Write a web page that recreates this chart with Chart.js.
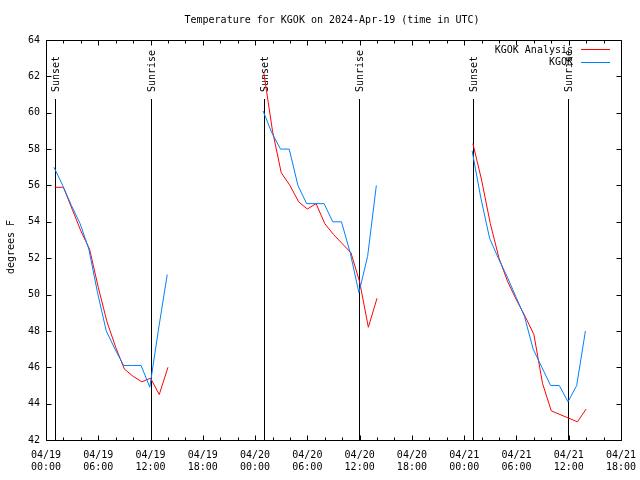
<!DOCTYPE html>
<html><head><meta charset="utf-8">
<script src="https://cdn.jsdelivr.net/npm/chart.js@4"></script>
<style>html,body{margin:0;padding:0;background:#fff}canvas{display:block}</style>
</head><body>
<canvas id="c" width="640" height="480"></canvas>
<script>
const chartTitle = 'Temperature for KGOK on 2024-Apr-19 (time in UTC)';
const yAxisTitle = 'degrees F';
const seriesNames = ['KGOK Analysis', 'KGOK'];
const yTicks = [42, 44, 46, 48, 50, 52, 54, 56, 58, 60, 62, 64];
const xTickLabels = ['04/19 00:00','04/19 06:00','04/19 12:00','04/19 18:00',
  '04/20 00:00','04/20 06:00','04/20 12:00','04/20 18:00',
  '04/21 00:00','04/21 06:00','04/21 12:00','04/21 18:00'];

const obsTimes = [
  '04/19 00:55','04/19 01:55','04/19 02:55','04/19 03:55','04/19 04:55','04/19 05:55','04/19 06:55',
  '04/19 07:55','04/19 08:55','04/19 09:55','04/19 10:55','04/19 11:55','04/19 12:55','04/19 13:55',
  '04/20 00:55','04/20 01:55','04/20 02:55','04/20 03:55','04/20 04:55','04/20 05:55','04/20 06:55',
  '04/20 07:55','04/20 08:55','04/20 09:55','04/20 10:55','04/20 11:55','04/20 12:55','04/20 13:55',
  '04/21 00:55','04/21 01:55','04/21 02:55','04/21 03:55','04/21 04:55','04/21 05:55','04/21 06:55',
  '04/21 07:55','04/21 08:55','04/21 09:55','04/21 10:55','04/21 11:55','04/21 12:55','04/21 13:55'];
const obsTemps = [
  57.0, 56.0, 54.9, 53.9, 52.5, 50.1, 48.0, 47.0, 46.1, 46.1, 46.1, 44.9, 48.1, 51.1,
  60.1, 58.9, 58.0, 58.0, 56.0, 55.0, 55.0, 55.0, 54.0, 54.0, 52.3, 50.1, 52.1, 56.0,
  57.9, 55.3, 53.1, 52.0, 51.0, 49.9, 48.8, 47.0, 46.0, 45.0, 45.0, 44.1, 45.0, 48.0];

const anaTimes = [
  '04/19 01:00','04/19 02:00','04/19 03:00','04/19 04:00','04/19 05:00','04/19 06:00','04/19 07:00',
  '04/19 08:00','04/19 09:00','04/19 10:00','04/19 11:00','04/19 12:00','04/19 13:00','04/19 14:00',
  '04/20 01:00','04/20 02:00','04/20 03:00','04/20 04:00','04/20 05:00','04/20 06:00','04/20 07:00',
  '04/20 08:00','04/20 09:00','04/20 10:00','04/20 11:00','04/20 12:00','04/20 13:00','04/20 14:00',
  '04/21 01:00','04/21 02:00','04/21 03:00','04/21 04:00','04/21 05:00','04/21 06:00','04/21 07:00',
  '04/21 08:00','04/21 09:00','04/21 10:00','04/21 11:00','04/21 12:00','04/21 13:00','04/21 14:00'];
const anaTemps = [
  55.9, 55.9, 54.7, 53.5, 52.5, 50.4, 48.5, 47.1, 45.9, 45.5, 45.2, 45.4, 44.5, 46.0,
  62.2, 59.0, 56.7, 56.0, 55.1, 54.7, 55.0, 53.9, 53.3, 52.8, 52.3, 50.7, 48.2, 49.8,
  58.3, 56.3, 53.9, 52.0, 50.7, 49.7, 48.8, 47.8, 45.1, 43.6, 43.4, 43.2, 43.0, 43.7];

const sunLabels = ['Sunset','Sunrise','Sunset','Sunrise','Sunset','Sunrise'];
const sunTimes = ['04/19 01:04','04/19 12:01','04/20 01:04','04/20 11:58','04/21 01:03','04/21 11:57'];

const FONT = 'DejaVu Sans Mono';
const RED = '#ff0000';
const BLUE = '#0080ff';

function hoursOf(s) {
  const [d, hm] = s.split(' ');
  const day = +d.split('/')[1];
  const [h, m] = hm.split(':').map(Number);
  return (day - 19) * 24 + h + m / 60;
}
function buildSeries(times, temps) {
  const pts = [];
  for (let i = 0; i < times.length; i++) {
    const x = hoursOf(times[i]);
    if (pts.length && x - pts[pts.length - 1].x > 3) pts.push({x: x - 1, y: null});
    pts.push({x: x, y: temps[i]});
  }
  return pts;
}

const gnuplotPlugin = {
  id: 'gnuplotDecor',
  beforeDatasetsDraw(chart) {
    const {ctx, chartArea: a, scales: {x}} = chart;
    ctx.save();
    ctx.strokeStyle = '#000';
    ctx.lineWidth = 1;
    ctx.fillStyle = '#000';
    ctx.font = '10px "' + FONT + '"';
    sunTimes.forEach((t, i) => {
      const px = Math.round(x.getPixelForValue(hoursOf(t))) + 0.5;
      ctx.beginPath();
      ctx.moveTo(px, 99);
      ctx.lineTo(px, a.bottom);
      ctx.stroke();
      ctx.save();
      ctx.translate(px + 1, 92);
      ctx.rotate(-Math.PI / 2);
      ctx.textAlign = 'left';
      ctx.textBaseline = 'middle';
      ctx.fillText(sunLabels[i], 0, 0);
      ctx.restore();
    });
    ctx.restore();
  },
  afterDraw(chart) {
    const {ctx, chartArea: a, scales: {x, y}} = chart;
    ctx.save();
    ctx.strokeStyle = '#000';
    ctx.lineWidth = 1;
    const L = Math.round(a.left) + 0.5, R = Math.round(a.right) + 0.5;
    const T = Math.round(a.top) + 0.5, B = Math.round(a.bottom) + 0.5;
    ctx.beginPath();
    ctx.rect(L, T, R - L, B - T);
    ctx.stroke();
    ctx.beginPath();
    for (let h = x.min; h <= x.max; h += 2) {
      const px = Math.round(x.getPixelForValue(h)) + 0.5;
      const len = (h % 6 === 0) ? 5 : 3;
      ctx.moveTo(px, B); ctx.lineTo(px, B - len);
      ctx.moveTo(px, T); ctx.lineTo(px, T + len);
    }
    yTicks.forEach(v => {
      const py = Math.round(y.getPixelForValue(v)) + 0.5;
      ctx.moveTo(L, py); ctx.lineTo(L + 5, py);
      ctx.moveTo(R, py); ctx.lineTo(R - 5, py);
    });
    ctx.stroke();

    ctx.fillStyle = '#000';
    ctx.font = '10px "' + FONT + '"';
    ctx.textAlign = 'center';
    ctx.textBaseline = 'middle';
    ctx.fillText(chartTitle, 332, 20);
    ctx.save();
    ctx.translate(11, 247);
    ctx.rotate(-Math.PI / 2);
    ctx.fillText(yAxisTitle, 0, 0);
    ctx.restore();

    const colors = [RED, BLUE];
    seriesNames.forEach((name, i) => {
      const ty = 50 + 12.5 * i;
      ctx.textAlign = 'right';
      ctx.fillStyle = '#000';
      ctx.fillText(name, 573, ty);
      ctx.strokeStyle = colors[i];
      ctx.beginPath();
      ctx.moveTo(581, Math.round(ty) - 0.5);
      ctx.lineTo(610, Math.round(ty) - 0.5);
      ctx.stroke();
    });
    ctx.restore();
  }
};

new Chart(document.getElementById('c'), {
  type: 'line',
  data: {
    datasets: [
      {label: seriesNames[1], data: buildSeries(obsTimes, obsTemps), borderColor: BLUE,
       borderWidth: 1, pointRadius: 0, fill: false, tension: 0, spanGaps: false, order: 0},
      {label: seriesNames[0], data: buildSeries(anaTimes, anaTemps), borderColor: RED,
       borderWidth: 1, pointRadius: 0, fill: false, tension: 0, spanGaps: false, order: 1}
    ]
  },
  options: {
    responsive: false,
    animation: false,
    devicePixelRatio: 1,
    layout: {padding: {top: 40, right: 19, left: 0, bottom: 0}},
    plugins: {legend: {display: false}, title: {display: false}, tooltip: {enabled: false}},
    scales: {
      x: {
        type: 'linear',
        min: hoursOf(xTickLabels[0]),
        max: hoursOf(xTickLabels[xTickLabels.length - 1]),
        afterBuildTicks(scale) { scale.ticks = xTickLabels.map(s => ({value: hoursOf(s)})); },
        afterFit(scale) { scale.height = 40; scale.paddingLeft = 0; scale.paddingRight = 0; },
        grid: {display: false, drawTicks: false},
        border: {display: false},
        ticks: {
          autoSkip: false, maxRotation: 0, minRotation: 0, padding: 9, color: '#000',
          font: {family: FONT, size: 10, lineHeight: 1.2},
          callback: (v, i) => xTickLabels[i].split(' ')
        }
      },
      y: {
        min: yTicks[0],
        max: yTicks[yTicks.length - 1],
        afterBuildTicks(scale) { scale.ticks = yTicks.map(v => ({value: v})); },
        afterFit(scale) { scale.width = 46; scale.paddingTop = 0; scale.paddingBottom = 0; },
        grid: {display: false, drawTicks: false},
        border: {display: false},
        ticks: {padding: 6, color: '#000', font: {family: FONT, size: 10},
          callback: v => String(v)}
      }
    }
  },
  plugins: [gnuplotPlugin]
});
</script>
</body></html>
